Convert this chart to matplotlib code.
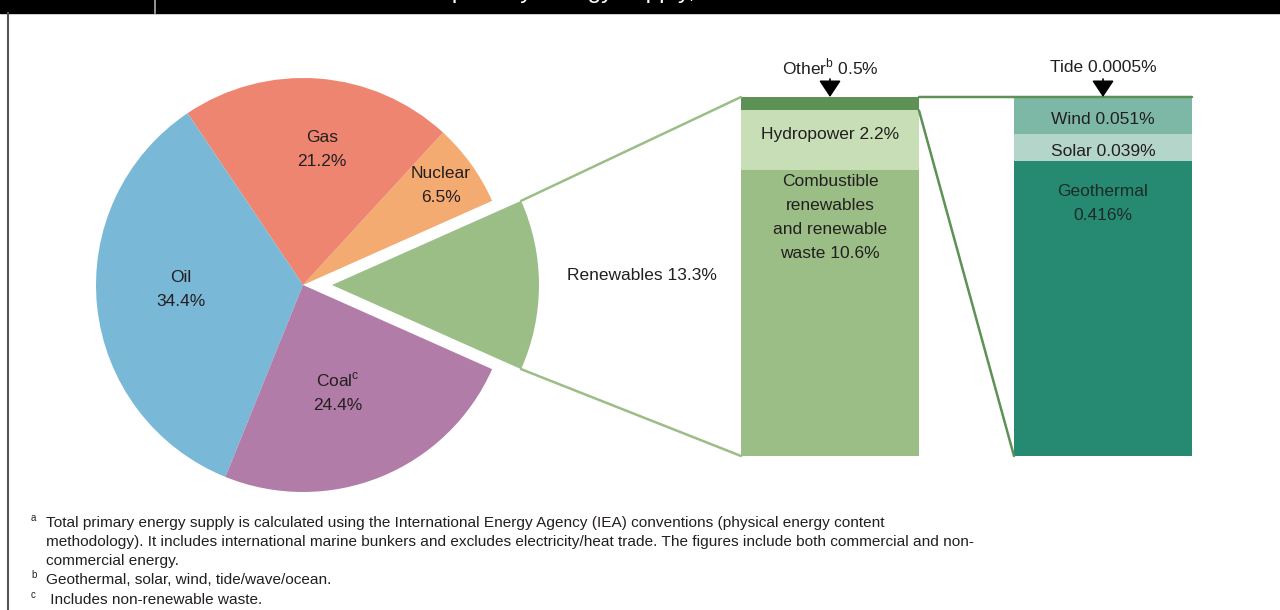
import math
import matplotlib
matplotlib.use("Agg")
import matplotlib.pyplot as plt
from matplotlib.patches import ConnectionPatch, Rectangle

plt.rcParams['font.family'] = ['Liberation Sans', 'DejaVu Sans']

# shares of total primary energy supply (%)
sources = ["Renewables", "Nuclear", "Gas", "Oil", "Coal"]
shares = [13.3, 6.5, 21.2, 34.4, 24.4]
pie_colors = ["#9bbe87", "#f4ab72", "#ee8570", "#7ab8d7", "#b27ca8"]

# breakdown of renewables (%)
renew_parts = ["Combustible renewables and renewable waste", "Hydropower", "Other"]
renew_shares = [10.6, 2.2, 0.5]
renew_colors = ["#9bbe87", "#c8deb6", "#5e9155"]

# breakdown of other renewables (%)
other_parts = ["Geothermal", "Solar", "Wind", "Tide"]
other_shares = [0.416, 0.039, 0.051, 0.0005]
other_colors = ["#268a73", "#b3d5ca", "#7db8a6", "#5e9155"]

footnotes = [
    ("a", ["Total primary energy supply is calculated using the International Energy Agency (IEA) conventions (physical energy content",
           "methodology). It includes international marine bunkers and excludes electricity/heat trade. The figures include both commercial and non-",
           "commercial energy."]),
    ("b", ["Geothermal, solar, wind, tide/wave/ocean."]),
    ("c", [" Includes non-renewable waste."]),
]

W, H = 1280, 610
TXT = "#231f20"


def Y(y):
    return H - y


def box(x, y, w, h):
    return [x / W, (H - y - h) / H, w / W, h / H]


fig = plt.figure(figsize=(W / 100, H / 100), dpi=100)
ax = fig.add_axes([0, 0, 1, 1])
ax.set_zorder(3)

radius = 207
start = -shares[0] / sum(shares) * 180
wedges, _ = ax.pie(
    shares,
    colors=pie_colors,
    startangle=start,
    radius=radius,
    center=(303, Y(285)),
    explode=[0.14 * radius, 0, 0, 0, 0],
    frame=True,
)
ax.set_xlim(0, W)
ax.set_ylim(0, H)
ax.set_aspect("auto")
ax.axis("off")

fs = 12.5
ls = 1.75
ax.text(322, Y(149), "Gas\n21.2%", ha="center", va="center", fontsize=fs, color=TXT, linespacing=ls)
ax.text(441, Y(186), "Nuclear\n6.5%", ha="center", va="center", fontsize=fs, color=TXT, linespacing=ls)
ax.text(181, Y(290), "Oil\n34.4%", ha="center", va="center", fontsize=fs, color=TXT, linespacing=ls)
ax.text(338, Y(392), "Coal$^\\mathregular{c}$\n24.4%", ha="center", va="center", fontsize=fs, color=TXT, linespacing=ls)
ax.text(642, Y(275), "Renewables 13.3%", ha="center", va="center", fontsize=fs, color=TXT)

# renewables bar
ab1 = fig.add_axes(box(741, 97, 178, 359))
bottom = 0
for v, c in zip(renew_shares, renew_colors):
    ab1.bar(0, v, bottom=bottom, width=1, color=c)
    bottom += v
ab1.set_xlim(-0.5, 0.5)
ab1.set_ylim(0, sum(renew_shares))
ab1.axis("off")

# other renewables bar
ab2 = fig.add_axes(box(1014, 97, 178, 359))
bottom = 0
for v, c in zip(other_shares, other_colors):
    ab2.bar(0, v, bottom=bottom, width=1, color=c)
    bottom += v
ab2.set_xlim(-0.5, 0.5)
ab2.set_ylim(0, sum(other_shares))
ab2.axis("off")

ax.text(830, Y(134), "Hydropower 2.2%", ha="center", va="center", fontsize=fs, color=TXT)
ax.text(830, Y(218), "Combustible\nrenewables\nand renewable\nwaste 10.6%", ha="center", va="center",
        fontsize=fs, color=TXT, linespacing=ls)
ax.text(1103, Y(120), "Wind 0.051%", ha="center", va="center", fontsize=fs, color=TXT)
ax.text(1103, Y(151), "Solar 0.039%", ha="center", va="center", fontsize=fs, color=TXT)
ax.text(1103, Y(204), "Geothermal\n0.416%", ha="center", va="center", fontsize=fs, color="#1c2b27", linespacing=ls)

# callouts above the bars
ax.text(830, Y(67), "Other$^\\mathregular{b}$ 0.5%", ha="center", va="center", fontsize=fs, color=TXT)
ax.text(1103, Y(67), "Tide 0.0005%", ha="center", va="center", fontsize=fs, color=TXT)
for xa in (830, 1103):
    ax.annotate("", xy=(xa, Y(97)), xytext=(xa, Y(79)),
                arrowprops=dict(arrowstyle="-|>,head_length=0.6,head_width=0.4",
                                mutation_scale=17, color="black", lw=1.2,
                                shrinkA=0, shrinkB=0))

# connector lines pie -> bar1
w = wedges[0]
cx, cy = w.center
t1, t2 = math.radians(w.theta1), math.radians(w.theta2)
upper = (cx + w.r * math.cos(t2), cy + w.r * math.sin(t2))
lower = (cx + w.r * math.cos(t1), cy + w.r * math.sin(t1))
for pA, pB in ((upper, (0, 1)), (lower, (0, 0))):
    cp = ConnectionPatch(xyA=pA, coordsA=ax.transData, xyB=pB, coordsB=ab1.transAxes,
                         color="#9bbe87", lw=1.8)
    fig.add_artist(cp)

# connector lines bar1 (other) -> bar2
other_bottom = (renew_shares[0] + renew_shares[1]) / sum(renew_shares)
for pA, pB in (((1, 1), (1, 1)), ((1, other_bottom), (0, 0))):
    cp = ConnectionPatch(xyA=pA, coordsA=ab1.transAxes, xyB=pB, coordsB=ab2.transAxes,
                         color="#5e9155", lw=1.8)
    fig.add_artist(cp)

# header strip (title cut off at the top edge, as in the source) and frame
ax.add_patch(Rectangle((0, Y(13)), W, 13, color="black", clip_on=False))
ax.plot([155, 155], [Y(0), Y(13)], color="#b0b0b0", lw=1.2)
ax.plot([8, 8], [0, Y(13)], color="#555555", lw=1.5)
ax.text(695, Y(-2), "Total primary energy supply,", ha="right", va="baseline", fontsize=17.5, color="white")

# footnotes
fn_font = ["Liberation Sans Narrow", "Liberation Sans", "DejaVu Sans"]
ys = [523, 542, 561, 580, 600]
i = 0
for mark, lines in footnotes:
    ax.text(31, Y(ys[i] - 5), mark, ha="left", va="center", fontsize=7, color=TXT, family=fn_font)
    for line in lines:
        ax.text(46, Y(ys[i]), line, ha="left", va="center", fontsize=11.1, color=TXT, family=fn_font)
        i += 1

plt.savefig("out.png", dpi=100)
